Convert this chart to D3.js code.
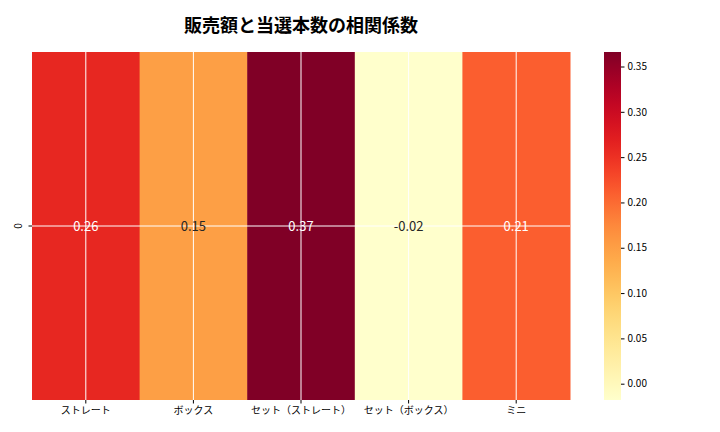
<!DOCTYPE html><html><head><meta charset="utf-8">
<script src="https://cdn.jsdelivr.net/npm/d3@7"></script>
<style>body{margin:0;background:#fff}text{font-family:"Noto Sans CJK JP","Noto Sans",sans-serif}</style></head><body>
<svg id="c" width="720" height="432"></svg>
<script>
const categories=["ストレート","ボックス","セット（ストレート）","セット（ボックス）","ミニ"];
const values=[0.26,0.15,0.366,-0.018,0.21];
const labels=["0.26","0.15","0.37","-0.02","0.21"];
const cbTicks=[0.00,0.05,0.10,0.15,0.20,0.25,0.30,0.35];
const rows=["0"];
const vmin=-0.018,vmax=0.366;
const svg=d3.select("#c");
const L=32,R=570,T=52,B=400;
const x=d3.scaleBand().domain(categories).range([L,R]);
const y=d3.scaleBand().domain(rows).range([T,B]);
const col=v=>d3.interpolateYlOrRd((v-vmin)/(vmax-vmin));
svg.append("text").attr("x",301).attr("y",32).attr("text-anchor","middle").attr("font-size",18).attr("font-weight","bold").text("販売額と当選本数の相関係数");
svg.selectAll("rect.c").data(values).join("rect").attr("x",(d,i)=>x(categories[i])).attr("y",y("0")).attr("width",x.bandwidth()+0.5).attr("height",y.bandwidth()).attr("fill",d=>col(d));
// grid lines
categories.forEach(c=>svg.append("line").attr("x1",x(c)+x.bandwidth()/2).attr("x2",x(c)+x.bandwidth()/2).attr("y1",T).attr("y2",B).attr("stroke","#fff").attr("stroke-width",1));
svg.append("line").attr("x1",L).attr("x2",R).attr("y1",y("0")+y.bandwidth()/2).attr("y2",y("0")+y.bandwidth()/2).attr("stroke","#fff");
svg.selectAll("text.v").data(values).join("text").attr("x",(d,i)=>x(categories[i])+x.bandwidth()/2).attr("y",y("0")+y.bandwidth()/2+5).attr("text-anchor","middle").attr("font-size",13).attr("fill",d=>(d-vmin)/(vmax-vmin)>0.5?"#fff":"#262626").text((d,i)=>labels[i]);
const xa=svg.append("g").attr("transform",`translate(0,${B})`).call(d3.axisBottom(x).tickSize(3.5));
xa.select(".domain").remove();xa.selectAll("text").attr("font-size",10).attr("fill","#000");
const ya=svg.append("g").attr("transform",`translate(${L},0)`).call(d3.axisLeft(y).tickSize(3.5));
ya.select(".domain").remove();ya.selectAll("text").attr("font-size",10).attr("fill","#000").attr("transform",function(){const t=d3.select(this);return null;});
ya.selectAll(".tick text").attr("transform","rotate(-90)").attr("x",0).attr("y",-14).attr("dy","0.35em").attr("text-anchor","middle");
// colorbar
const cy=d3.scaleLinear().domain([vmin,vmax]).range([B,T]);
const defs=svg.append("defs");const g=defs.append("linearGradient").attr("id","g").attr("x1",0).attr("x2",0).attr("y1",1).attr("y2",0);
d3.range(0,1.001,0.05).forEach(t=>g.append("stop").attr("offset",t).attr("stop-color",d3.interpolateYlOrRd(t)));
svg.append("rect").attr("x",604).attr("y",T).attr("width",17).attr("height",B-T).attr("fill","url(#g)");
const ca=svg.append("g").attr("transform","translate(621,0)").call(d3.axisRight(cy).tickValues(cbTicks).tickFormat(d3.format(".2f")).tickSize(3.5));
ca.select(".domain").remove();ca.selectAll("text").attr("font-size",10).attr("fill","#000");
</script></body></html>
